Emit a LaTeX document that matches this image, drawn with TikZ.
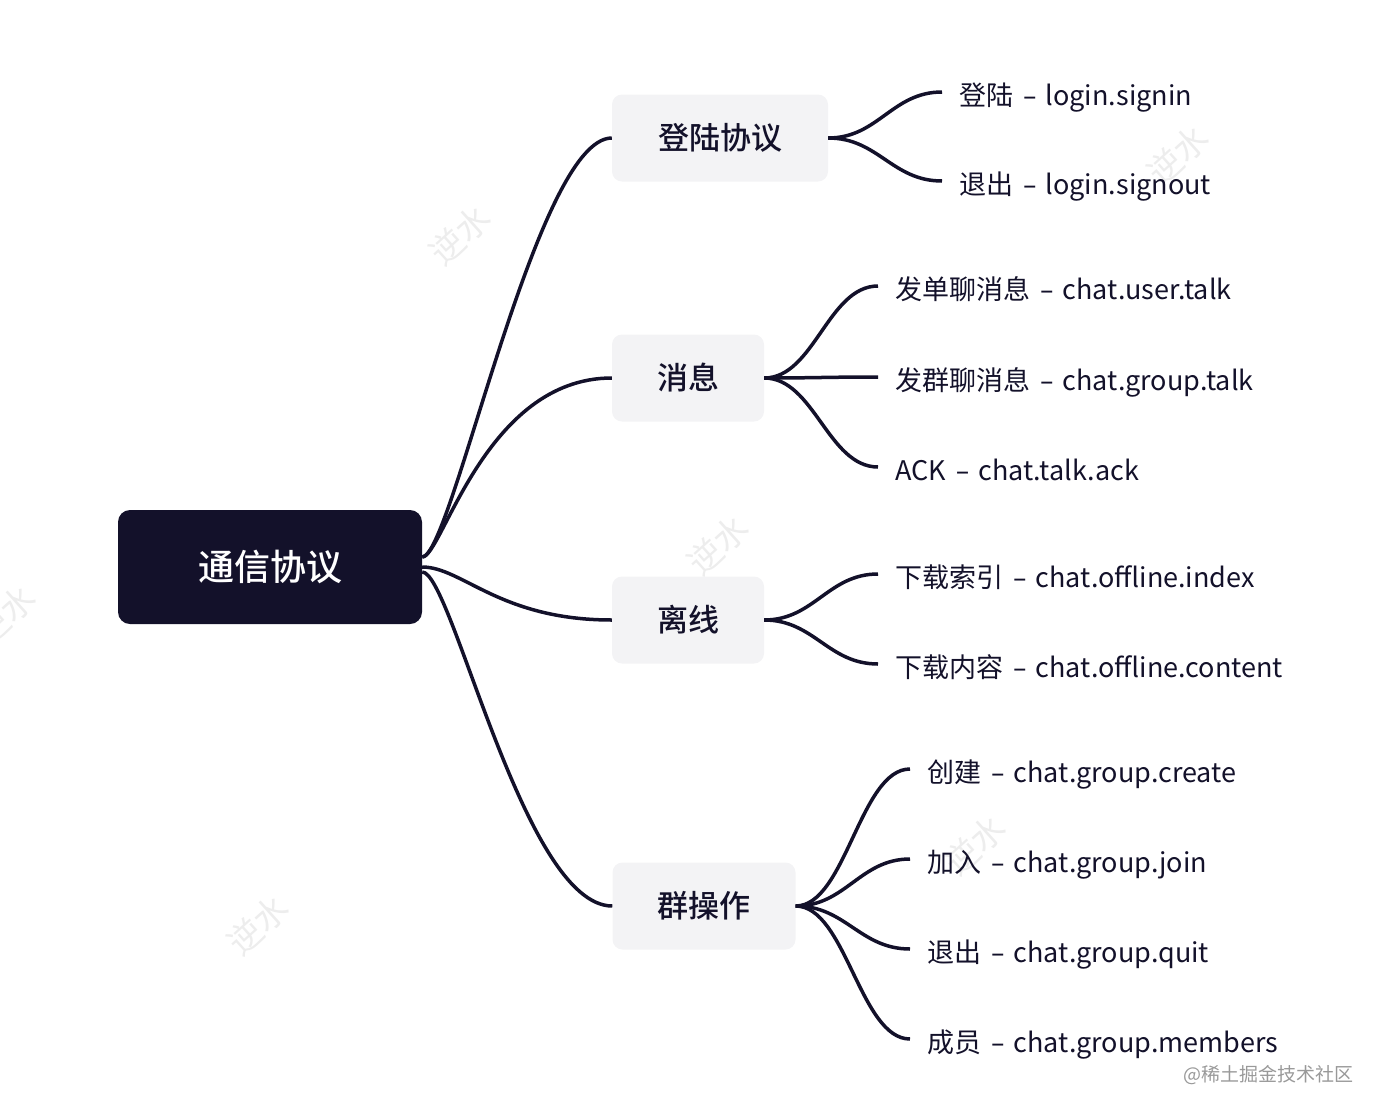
\documentclass[tikz,border=0pt]{standalone}
\usepackage{fontspec}
\setmainfont{Noto Sans CJK SC}[BoldFont={* Medium}]
\newfontfamily\dashfont{DejaVu Sans}
\definecolor{ink}{HTML}{13112A}
\definecolor{pale}{HTML}{F3F3F5}
\newcommand{\leafsep}{\hspace{10pt}{\dashfont –}\hspace{9pt}\ignorespaces}

\begin{document}
\begin{tikzpicture}
[every node/.style={inner sep=0pt},
 root/.style={rounded corners=12pt, fill=ink, text=white, minimum width=304pt, minimum height=114pt, font=\fontsize{36}{36}\selectfont\bfseries},
 topic/.style={rounded corners=10pt, fill=pale, text=ink, minimum height=87pt, font=\fontsize{31}{31}\selectfont\bfseries},
 leaf/.style={anchor=west, inner xsep=17pt, text height=26.6pt, text depth=0pt, text=ink, font=\fontsize{27}{27}\selectfont},
 branch/.style={line width=3.5pt, color=ink},
 wm/.style={rotate=42, text=black!7, font=\fontsize{34}{34}\selectfont}]
\useasboundingbox (0pt, 0pt) rectangle (1382pt, -1114pt);
\node (w1) [wm] at (460pt, -235pt) {逆水};
\node (w2) [wm] at (1178pt, -155pt) {逆水};
\node (w3) [wm] at (718pt, -545pt) {逆水};
\node (w4) [wm] at (5pt, -615pt) {逆水};
\node (w5) [wm] at (975pt, -845pt) {逆水};
\node (w6) [wm] at (258pt, -925pt) {逆水};
\node (0) [root] at (270pt, -567pt) {通信协议};
\node (1) [topic, minimum width=216pt] at (720pt, -138pt) {登陆协议};
\node (2) [topic, minimum width=152pt] at (688pt, -378pt) {消息};
\node (3) [topic, minimum width=152pt] at (688pt, -620pt) {离线};
\node (4) [topic, minimum width=183pt] at (704pt, -906pt) {群操作};
\node (11) [leaf] at (942pt, -92pt) {登陆\leafsep login.signin};
\node (12) [leaf] at (942pt, -181pt) {退出\leafsep login.signout};
\node (21) [leaf] at (878pt, -286pt) {发单聊消息\leafsep chat.user.talk};
\node (22) [leaf] at (878pt, -377pt) {发群聊消息\leafsep chat.group.talk};
\node (23) [leaf] at (878pt, -467pt) {ACK\leafsep chat.talk.ack};
\node (31) [leaf] at (878pt, -574pt) {下载索引\leafsep chat.offline.index};
\node (32) [leaf] at (878pt, -664pt) {下载内容\leafsep chat.offline.content};
\node (41) [leaf] at (910pt, -769pt) {创建\leafsep chat.group.create};
\node (42) [leaf] at (910pt, -859pt) {加入\leafsep chat.group.join};
\node (43) [leaf] at (910pt, -949pt) {退出\leafsep chat.group.quit};
\node (44) [leaf] at (910pt, -1039pt) {成员\leafsep chat.group.members};
\node (credit) [anchor=east, text=black!40, font=\fontsize{19}{19}\selectfont] at (1354pt, -1075pt) {@稀土掘金技术社区};
\draw [branch] ([yshift=10pt]0.east) .. controls +(30pt, 0pt) and +(-76pt, 0pt) .. (1.west);
\draw [branch] ([yshift=10pt]0.east) .. controls +(20pt, 0pt) and +(-127pt, 0pt) .. (2.west);
\draw [branch] (0.east) .. controls +(40pt, 0pt) and +(-112pt, 0pt) .. (3.west);
\draw [branch] ([yshift=-5pt]0.east) .. controls +(30pt, 0pt) and +(-89pt, 0pt) .. (4.west);
\draw [branch] (1.east) .. controls +(50pt, 0pt) and +(-50pt, 0pt) .. (11.west);
\draw [branch] (1.east) .. controls +(50pt, 0pt) and +(-50pt, 0pt) .. (12.west);
\draw [branch] (2.east) .. controls +(50pt, 0pt) and +(-50pt, 0pt) .. (21.west);
\draw [branch] (2.east) .. controls +(50pt, 0pt) and +(-50pt, 0pt) .. (22.west);
\draw [branch] (2.east) .. controls +(50pt, 0pt) and +(-50pt, 0pt) .. (23.west);
\draw [branch] (3.east) .. controls +(50pt, 0pt) and +(-50pt, 0pt) .. (31.west);
\draw [branch] (3.east) .. controls +(50pt, 0pt) and +(-50pt, 0pt) .. (32.west);
\draw [branch] (4.east) .. controls +(50pt, 0pt) and +(-50pt, 0pt) .. (41.west);
\draw [branch] (4.east) .. controls +(50pt, 0pt) and +(-50pt, 0pt) .. (42.west);
\draw [branch] (4.east) .. controls +(50pt, 0pt) and +(-50pt, 0pt) .. (43.west);
\draw [branch] (4.east) .. controls +(50pt, 0pt) and +(-50pt, 0pt) .. (44.west);
\end{tikzpicture}
\end{document}
